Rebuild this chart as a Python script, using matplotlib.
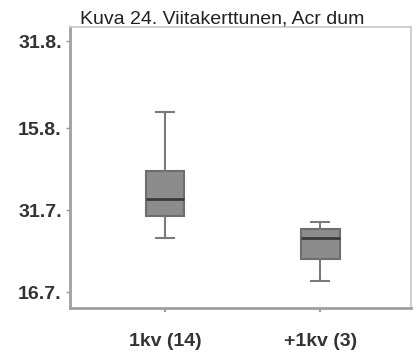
import matplotlib.pyplot as plt
import numpy as np

plt.rcParams['font.family'] = ['Liberation Sans', 'DejaVu Sans']

# day-of-year values for the two groups (whisker low, q1, median, q3, whisker high)
groups = ['1kv (14)', '+1kv (3)']
whislo = [207.0, 199.1]
q1 = [211.0, 203.0]
med = [214.1, 206.9]
q3 = [219.2, 208.5]
whishi = [230.0, 209.9]

# y ticks as dates (day.month.)
ytick_days = [197, 212, 227, 243]
ytick_labels = ['16.7.', '31.7.', '15.8.', '31.8.']

stats = []
for i in range(len(groups)):
    stats.append(dict(label=groups[i], whislo=whislo[i], q1=q1[i], med=med[i],
                      q3=q3[i], whishi=whishi[i], fliers=[]))

fig = plt.figure(figsize=(4.17, 3.54), dpi=100)
ax = fig.add_axes([0.168, 0.130, 0.818, 0.794])

ax.bxp(stats, positions=[1, 2], widths=0.25, patch_artist=True, showfliers=False,
       boxprops=dict(facecolor='#8c8c8c', edgecolor='#6e6e6e', linewidth=1.5),
       medianprops=dict(color='#3a3a3a', linewidth=2),
       whiskerprops=dict(color='#7a7a7a', linewidth=1.5),
       capprops=dict(color='#7a7a7a', linewidth=1.5),
       capwidths=0.12)

ax.set_xlim(0.387, 2.587)
ax.set_ylim(194.1, 245.6)
ax.set_yticks(ytick_days)
ax.set_yticklabels(ytick_labels, fontsize=14, fontweight='bold', color='#333333')
ax.set_xticks([1, 2])
ax.set_xticklabels(groups, fontsize=14, fontweight='bold', color='#333333')
ax.tick_params(axis='y', length=3, width=1, color='#999999', pad=3)
ax.tick_params(axis='x', length=3, width=1.5, color='#999999', pad=15)

for side in ['top', 'right']:
    ax.spines[side].set_color('#c8c8c8')
    ax.spines[side].set_linewidth(1.2)
for side in ['left', 'bottom']:
    ax.spines[side].set_color('#a0a0a0')
    ax.spines[side].set_linewidth(2)

fig.text(0.532, 0.935, 'Kuva 24. Viitakerttunen, Acr dum', ha='center', va='baseline',
         fontsize=14, color='#222222')

fig.savefig('out.png', dpi=100)
